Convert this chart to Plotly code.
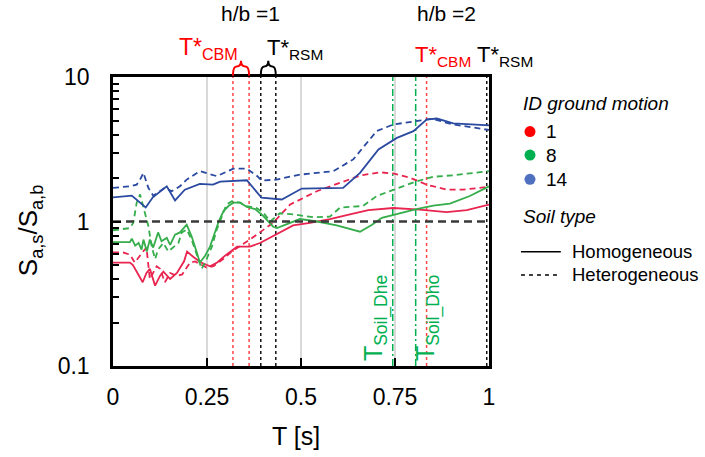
import plotly.graph_objects as go

# ---------------- data ----------------
t_red_hom = [0, 0.045, 0.053, 0.079, 0.089, 0.098, 0.112, 0.125, 0.134, 0.152, 0.170, 0.189, 0.197, 0.213,
             0.234, 0.258, 0.277, 0.298, 0.330, 0.364, 0.391, 0.426, 0.479, 0.524, 0.577, 0.630, 0.679,
             0.745, 0.816, 0.887, 0.941, 1.0]
v_red_hom = [0.52, 0.52, 0.50, 0.38, 0.44, 0.47, 0.36, 0.42, 0.45, 0.40, 0.44, 0.53, 0.62, 0.57,
             0.52, 0.49, 0.52, 0.58, 0.67, 0.67, 0.71, 0.79, 0.94, 0.98, 1.04, 1.12, 1.20,
             1.24, 1.21, 1.16, 1.20, 1.31]

t_red_het = [0, 0.027, 0.045, 0.058, 0.080, 0.089, 0.098, 0.116, 0.125, 0.138, 0.152, 0.170, 0.184, 0.193,
             0.205, 0.218, 0.236, 0.249, 0.267, 0.293, 0.316, 0.340, 0.364, 0.426, 0.471, 0.542, 0.612,
             0.657, 0.710, 0.745, 0.790, 0.834, 0.887, 0.931, 1.0]
v_red_het = [0.61, 0.61, 0.59, 0.52, 0.62, 0.66, 0.40, 0.49, 0.47, 0.38, 0.44, 0.42, 0.43, 0.47,
             0.52, 0.53, 0.50, 0.48, 0.49, 0.55, 0.62, 0.68, 0.75, 0.98, 1.31, 1.62, 1.90,
             2.08, 2.19, 2.15, 2.01, 1.80, 1.66, 1.66, 1.74]

t_green_hom = [0, 0.045, 0.050, 0.059, 0.068, 0.076, 0.081, 0.090, 0.098, 0.107, 0.120, 0.129, 0.143, 0.152,
               0.165, 0.178, 0.196, 0.209, 0.223, 0.231, 0.245, 0.258, 0.271, 0.281, 0.294, 0.307, 0.320,
               0.338, 0.356, 0.378, 0.400, 0.426, 0.436, 0.453, 0.497, 0.543, 0.595, 0.657, 0.689, 0.715,
               0.763, 0.807, 0.852, 0.896, 0.949, 1.0]
v_green_hom = [0.72, 0.72, 0.76, 0.68, 0.71, 0.64, 0.75, 0.62, 0.75, 0.66, 0.84, 0.73, 0.77, 0.69,
               0.81, 0.84, 0.95, 0.79, 0.61, 0.52, 0.58, 0.67, 0.84, 1.00, 1.18, 1.28, 1.35,
               1.35, 1.26, 1.22, 1.09, 0.92, 0.90, 0.94, 1.04, 1.00, 0.94, 0.85, 0.95, 1.06,
               1.14, 1.22, 1.29, 1.33, 1.50, 1.75]

t_green_het = [0, 0.045, 0.054, 0.063, 0.072, 0.085, 0.094, 0.103, 0.112, 0.120, 0.134, 0.147, 0.160, 0.174,
               0.183, 0.196, 0.209, 0.223, 0.236, 0.249, 0.263, 0.276, 0.285, 0.302, 0.316, 0.338, 0.356,
               0.382, 0.400, 0.418, 0.444, 0.480, 0.532, 0.577, 0.604, 0.665, 0.701, 0.745, 0.808, 0.852,
               0.905, 1.0]
v_green_het = [0.87, 0.90, 0.98, 1.35, 1.54, 1.15, 0.93, 0.67, 0.55, 0.64, 0.71, 0.62, 0.66, 0.71,
               0.84, 0.88, 0.75, 0.58, 0.47, 0.55, 0.67, 0.88, 1.00, 1.31, 1.38, 1.35, 1.28,
               1.24, 1.15, 1.00, 1.14, 1.12, 1.07, 1.08, 1.25, 1.28, 1.50, 1.66, 1.90, 2.04,
               2.09, 2.23]

t_blue_hom = [0, 0.050, 0.087, 0.106, 0.143, 0.165, 0.191, 0.231, 0.266, 0.285, 0.356, 0.395, 0.449, 0.502,
              0.612, 0.657, 0.706, 0.755, 0.799, 0.834, 0.861, 0.905, 1.0]
v_blue_hom = [1.47, 1.51, 1.25, 1.47, 1.75, 1.40, 1.66, 1.82, 1.80, 1.89, 1.93, 1.46, 1.42, 1.69,
              1.71, 2.17, 3.15, 3.79, 4.22, 5.08, 5.16, 4.77, 4.62]

t_blue_het = [0, 0.045, 0.063, 0.072, 0.081, 0.094, 0.107, 0.138, 0.156, 0.178, 0.196, 0.231, 0.276, 0.320,
              0.356, 0.382, 0.395, 0.435, 0.497, 0.586, 0.639, 0.657, 0.701, 0.745, 0.799, 0.848, 0.905, 1.0]
v_blue_het = [1.71, 1.75, 1.80, 1.95, 2.17, 1.71, 1.51, 1.71, 1.62, 1.75, 1.95, 2.23, 2.06, 2.32,
              2.32, 2.08, 1.92, 1.95, 2.11, 2.23, 2.69, 3.07, 4.22, 4.69, 4.94, 5.14, 4.69, 4.30]

t_cbm = [0.319, 0.362, 0.834]        # red dashed reference periods
t_rsm = [0.393, 0.433, 0.994]        # black dashed reference periods
t_soil = [0.744, 0.805]              # green dash-dot soil periods
soil_labels = ["T<sub>Soil_Dhe</sub>", "T<sub>Soil_Dho</sub>"]

x_ticks = [0, 0.25, 0.5, 0.75, 1]
x_ticktext = ["0", "0.25", "0.5", "0.75", "1"]
y_ticks = [0.1, 1, 10]
y_ticktext = ["0.1", "1", "10"]

gm_ids = ["1", "8", "14"]
gm_dot_colors = ["#ff0000", "#00b050", "#4f6fbf"]
soil_types = ["Homogeneous", "Heterogeneous"]

FONT = "Liberation Sans, Arial, sans-serif"
RED = "#e8244f"
GREEN = "#35ad4b"
BLUE = "#2a49a0"

fig = go.Figure()

# reference vertical lines
Y_SPAN = [0.1, 10]
for t in t_cbm:
    fig.add_trace(go.Scatter(x=[t, t], y=Y_SPAN, mode="lines",
                             line=dict(color="#ff4646", width=1.5, dash="3px,3px"),
                             showlegend=False, hoverinfo="skip"))
for t in t_rsm:
    fig.add_trace(go.Scatter(x=[t, t], y=Y_SPAN, mode="lines",
                             line=dict(color="#111111", width=1.5, dash="3px,3px"),
                             showlegend=False, hoverinfo="skip"))
for t in t_soil:
    fig.add_trace(go.Scatter(x=[t, t], y=Y_SPAN, mode="lines",
                             line=dict(color="#00b050", width=1.5, dash="7px,3px,2px,3px"),
                             showlegend=False, hoverinfo="skip"))

series = [
    (t_red_hom, v_red_hom, RED, "solid"),
    (t_red_het, v_red_het, RED, "6px,4px"),
    (t_green_hom, v_green_hom, GREEN, "solid"),
    (t_green_het, v_green_het, GREEN, "6px,4px"),
    (t_blue_hom, v_blue_hom, BLUE, "solid"),
    (t_blue_het, v_blue_het, BLUE, "6px,4px"),
]
for tx, vy, col, dash in series:
    fig.add_trace(go.Scatter(x=tx, y=vy, mode="lines",
                             line=dict(color=col, width=1.8, dash=dash),
                             showlegend=False))

# horizontal reference at 1
fig.add_trace(go.Scatter(x=[0, 1], y=[1, 1], mode="lines",
                         line=dict(color="#3a3a3a", width=2.5, dash="8px,5px"),
                         showlegend=False, hoverinfo="skip"))

shapes = []
annotations = []


def brace(xa, xb, color):
    xm = (xa + xb) / 2
    yb, ym, yt = 1.004, 1.036, 1.056
    q = (xm - xa) * 0.45
    path = (f"M {xa},{yb} Q {xa},{ym} {xa + q},{ym} "
            f"Q {xm},{ym} {xm},{yt} Q {xm},{ym} {xb - q},{ym} "
            f"Q {xb},{ym} {xb},{yb}")
    return dict(type="path", xref="x", yref="paper", path=path,
                line=dict(color=color, width=2))


shapes.append(brace(t_cbm[0], t_cbm[1], "#ff0000"))
shapes.append(brace(t_rsm[0], t_rsm[1], "#000000"))


def ann(x, y, text, size, color="black", xanchor="center", **kw):
    d = dict(x=x, y=y, xref=kw.pop("xref", "paper"), yref="paper", text=text,
             showarrow=False, xanchor=xanchor, yanchor="middle",
             font=dict(size=size, color=color))
    d.update(kw)
    annotations.append(d)


# top labels
ann(0.367, 1.221, "h/b =1", 21)
ann(0.887, 1.221, "h/b =2", 21)
ann(0.2535, 1.097, "T*<sub>CBM</sub>", 23, "#ff0000")
ann(0.484, 1.097, "T*<sub>RSM</sub>", 22)
ann(0.878, 1.073, "T*<sub>CBM</sub>", 22, "#ff0000")
ann(1.043, 1.073, "T*<sub>RSM</sub>", 22)

# soil period labels
for t, lab, dx in zip(t_soil, soil_labels, [-0.047, 0.03]):
    ann(t + dx, 0.166, lab, 25, "#00b050", xref="x", textangle=-90)

# custom legend
LX = 1.085
ann(LX, 0.910, "<i>ID ground motion</i>", 19, xanchor="left")
for gid, col, yy in zip(gm_ids, gm_dot_colors, [0.811, 0.730, 0.646]):
    shapes.append(dict(type="circle", xref="paper", yref="paper",
                       xsizemode="pixel", ysizemode="pixel",
                       xanchor=1.109, yanchor=yy, x0=-5.5, x1=5.5, y0=-5.5, y1=5.5,
                       fillcolor=col, line=dict(width=0)))
    ann(1.146, yy, gid, 19, xanchor="left")
ann(LX, 0.519, "<i>Soil type</i>", 19, xanchor="left")
for st, yy, dash in zip(soil_types, [0.395, 0.315], ["solid", "4px,4px"]):
    shapes.append(dict(type="line", xref="paper", yref="paper", x0=1.085, x1=1.191,
                       y0=yy, y1=yy, line=dict(color="black", width=1.5, dash=dash)))
    ann(1.216, yy, st, 18.5, xanchor="left")

# axis titles
ann(-0.223, 0.467, "S<sub>a,s</sub>/S<sub>a,b</sub>", 26, textangle=-90)
ann(0.488, -0.242, "T [s]", 25)

minor_vals = [m * 10 ** e for e in (-1, 0) for m in range(2, 10)]

fig.update_layout(
    width=705, height=457,
    margin=dict(l=113, r=216, t=77, b=91),
    paper_bgcolor="white", plot_bgcolor="white",
    font=dict(family=FONT, color="black"),
    shapes=shapes, annotations=annotations,
    showlegend=False,
    xaxis=dict(range=[0, 1], tickvals=x_ticks, ticktext=x_ticktext,
               ticks="inside", ticklen=8, tickwidth=2, tickcolor="black",
               showline=True, linewidth=2.5, linecolor="black", mirror=True,
               showgrid=True, gridcolor="#d9d9d9", gridwidth=1.5, zeroline=False,
               tickfont=dict(size=23), ticklabelstandoff=9),
    yaxis=dict(type="log", range=[-1, 1], tickvals=y_ticks, ticktext=y_ticktext,
               ticks="inside", ticklen=8, tickwidth=2, tickcolor="black",
               minor=dict(tickvals=minor_vals, ticks="inside", ticklen=6,
                          tickwidth=1.5, tickcolor="black", showgrid=False),
               showline=True, linewidth=2.5, linecolor="black", mirror=True,
               showgrid=False, zeroline=False,
               tickfont=dict(size=23), ticklabelstandoff=16),
)

fig.write_html("out.html")
